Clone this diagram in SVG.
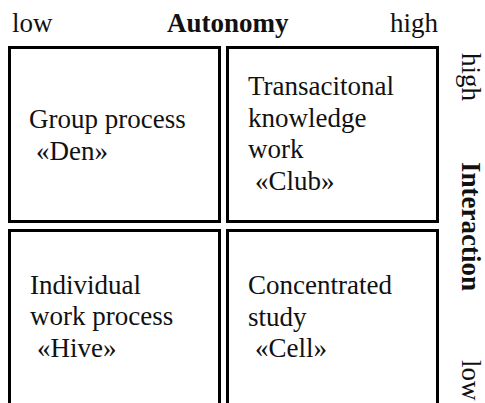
<svg xmlns="http://www.w3.org/2000/svg" width="485" height="403" viewBox="0 0 485 403">
  <style>
    text { font-family: "Liberation Serif", "Times New Roman", serif; font-size: 27px; fill: #111; }
    .axis { font-weight: bold; }
    .cell { fill: #fff; stroke: #000; stroke-width: 3; }
  </style>
  <rect width="485" height="403" fill="#fff"/>

  <!-- Autonomy axis (horizontal) -->
  <g id="axis-autonomy">
    <text x="12" y="32">low</text>
    <text class="axis" x="167" y="32">Autonomy</text>
    <text x="438" y="32" text-anchor="end">high</text>
  </g>

  <!-- Interaction axis (vertical, reading downwards) -->
  <g id="axis-interaction">
    <text transform="translate(462,53) rotate(90)">high</text>
    <text class="axis" transform="translate(462,162) rotate(90)">Interaction</text>
    <text transform="translate(462,360) rotate(90)">low</text>
  </g>

  <!-- Quadrants -->
  <g id="den">
    <rect class="cell" x="9.5" y="47.5" width="210" height="174"/>
    <text x="29" y="128">Group process</text>
    <text x="36" y="160">«Den»</text>
  </g>

  <g id="club">
    <rect class="cell" x="227.5" y="47.5" width="210" height="174"/>
    <text x="248" y="95">Transacitonal</text>
    <text x="248" y="127">knowledge</text>
    <text x="248" y="158">work</text>
    <text x="255" y="190">«Club»</text>
  </g>

  <g id="hive">
    <rect class="cell" x="9.5" y="230.5" width="210" height="190"/>
    <text x="30" y="294">Individual</text>
    <text x="30" y="325">work process</text>
    <text x="37" y="357">«Hive»</text>
  </g>

  <g id="cell">
    <rect class="cell" x="227.5" y="230.5" width="210" height="190"/>
    <text x="248" y="294">Concentrated</text>
    <text x="248" y="326">study</text>
    <text x="255" y="357">«Cell»</text>
  </g>

  <g id="connectors"></g>
</svg>
